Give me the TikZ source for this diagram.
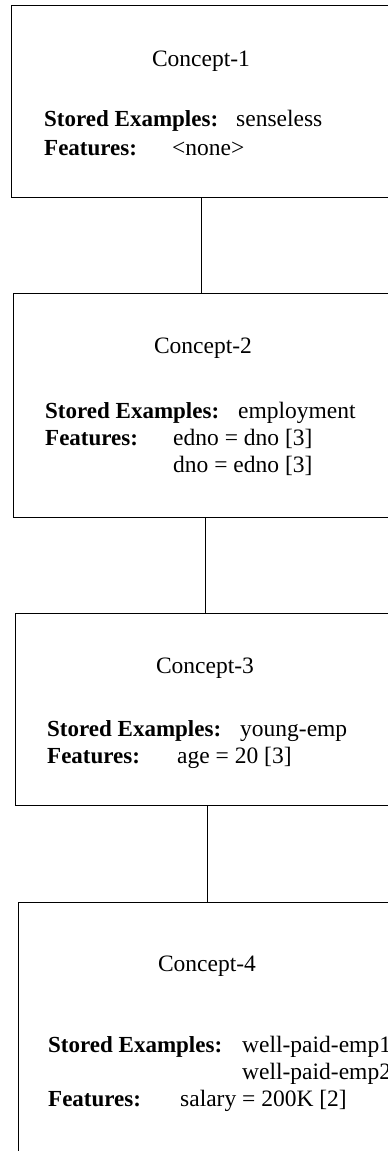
\documentclass[tikz,border=0pt]{standalone}
\usepackage{fontspec}
\setmainfont{Liberation Serif}
\begin{document}
\begin{tikzpicture}[x=1pt,y=-1pt,
  conceptbox/.style={draw, line width=0.9pt, minimum width=430pt, anchor=north west, inner sep=0pt},
  title/.style={font=\fontsize{23.5}{28}\selectfont, anchor=base, inner sep=0pt},
  lbl/.style={font=\fontsize{23}{28}\selectfont\bfseries, anchor=base west, inner sep=0pt},
  val/.style={font=\fontsize{23.5}{28}\selectfont, anchor=base west, inner sep=0pt},
  link/.style={line width=0.9pt}]
\useasboundingbox (0,0) rectangle (388,1151);
\clip (0,0) rectangle (388,1151);
\fill[white] (0,0) rectangle (388,1151);

% concept boxes
\node[conceptbox, minimum height=192pt] (c1) at (11,5) {};
\node[conceptbox, minimum height=224pt] (c2) at (13,293) {};
\node[conceptbox, minimum height=192pt] (c3) at (15,613) {};
\node[conceptbox, minimum height=300pt] (c4) at (18,902) {};

% Concept-1
\node[title] (t1) at (201,66) {Concept-1};
\node[lbl] (s1) at (44,126) {Stored Examples:};
\node[val] (e1) at (236,126) {senseless};
\node[lbl] (f1) at (44,155) {Features:};
\node[val] (v1) at (172,155) {<none>};

% Concept-2
\node[title] (t2) at (203,353) {Concept-2};
\node[lbl] (s2) at (45,418) {Stored Examples:};
\node[val] (e2) at (238,418) {employment};
\node[lbl] (f2) at (45,445) {Features:};
\node[val] (v2a) at (173,445) {edno = dno [3]};
\node[val] (v2b) at (173,472) {dno = edno [3]};

% Concept-3
\node[title] (t3) at (205,673) {Concept-3};
\node[lbl] (s3) at (47,736) {Stored Examples:};
\node[val] (e3) at (240,736) {young-emp};
\node[lbl] (f3) at (47,763) {Features:};
\node[val] (v3) at (177,763) {age = 20 [3]};

% Concept-4
\node[title] (t4) at (207,971) {Concept-4};
\node[lbl] (s4) at (48,1052) {Stored Examples:};
\node[val] (e4a) at (242,1052) {well-paid-emp1};
\node[val] (e4b) at (242,1079) {well-paid-emp2};
\node[lbl] (f4) at (48,1106) {Features:};
\node[val] (v4) at (180,1106) {salary = 200K [2]};

% links between concepts
\draw[link] (c1.south -| t1) -- (c2.north -| t1);
\draw[link] (c2.south -| t3) -- (c3.north -| t3);
\draw[link] (c3.south -| t4) -- (c4.north -| t4);
\end{tikzpicture}
\end{document}
